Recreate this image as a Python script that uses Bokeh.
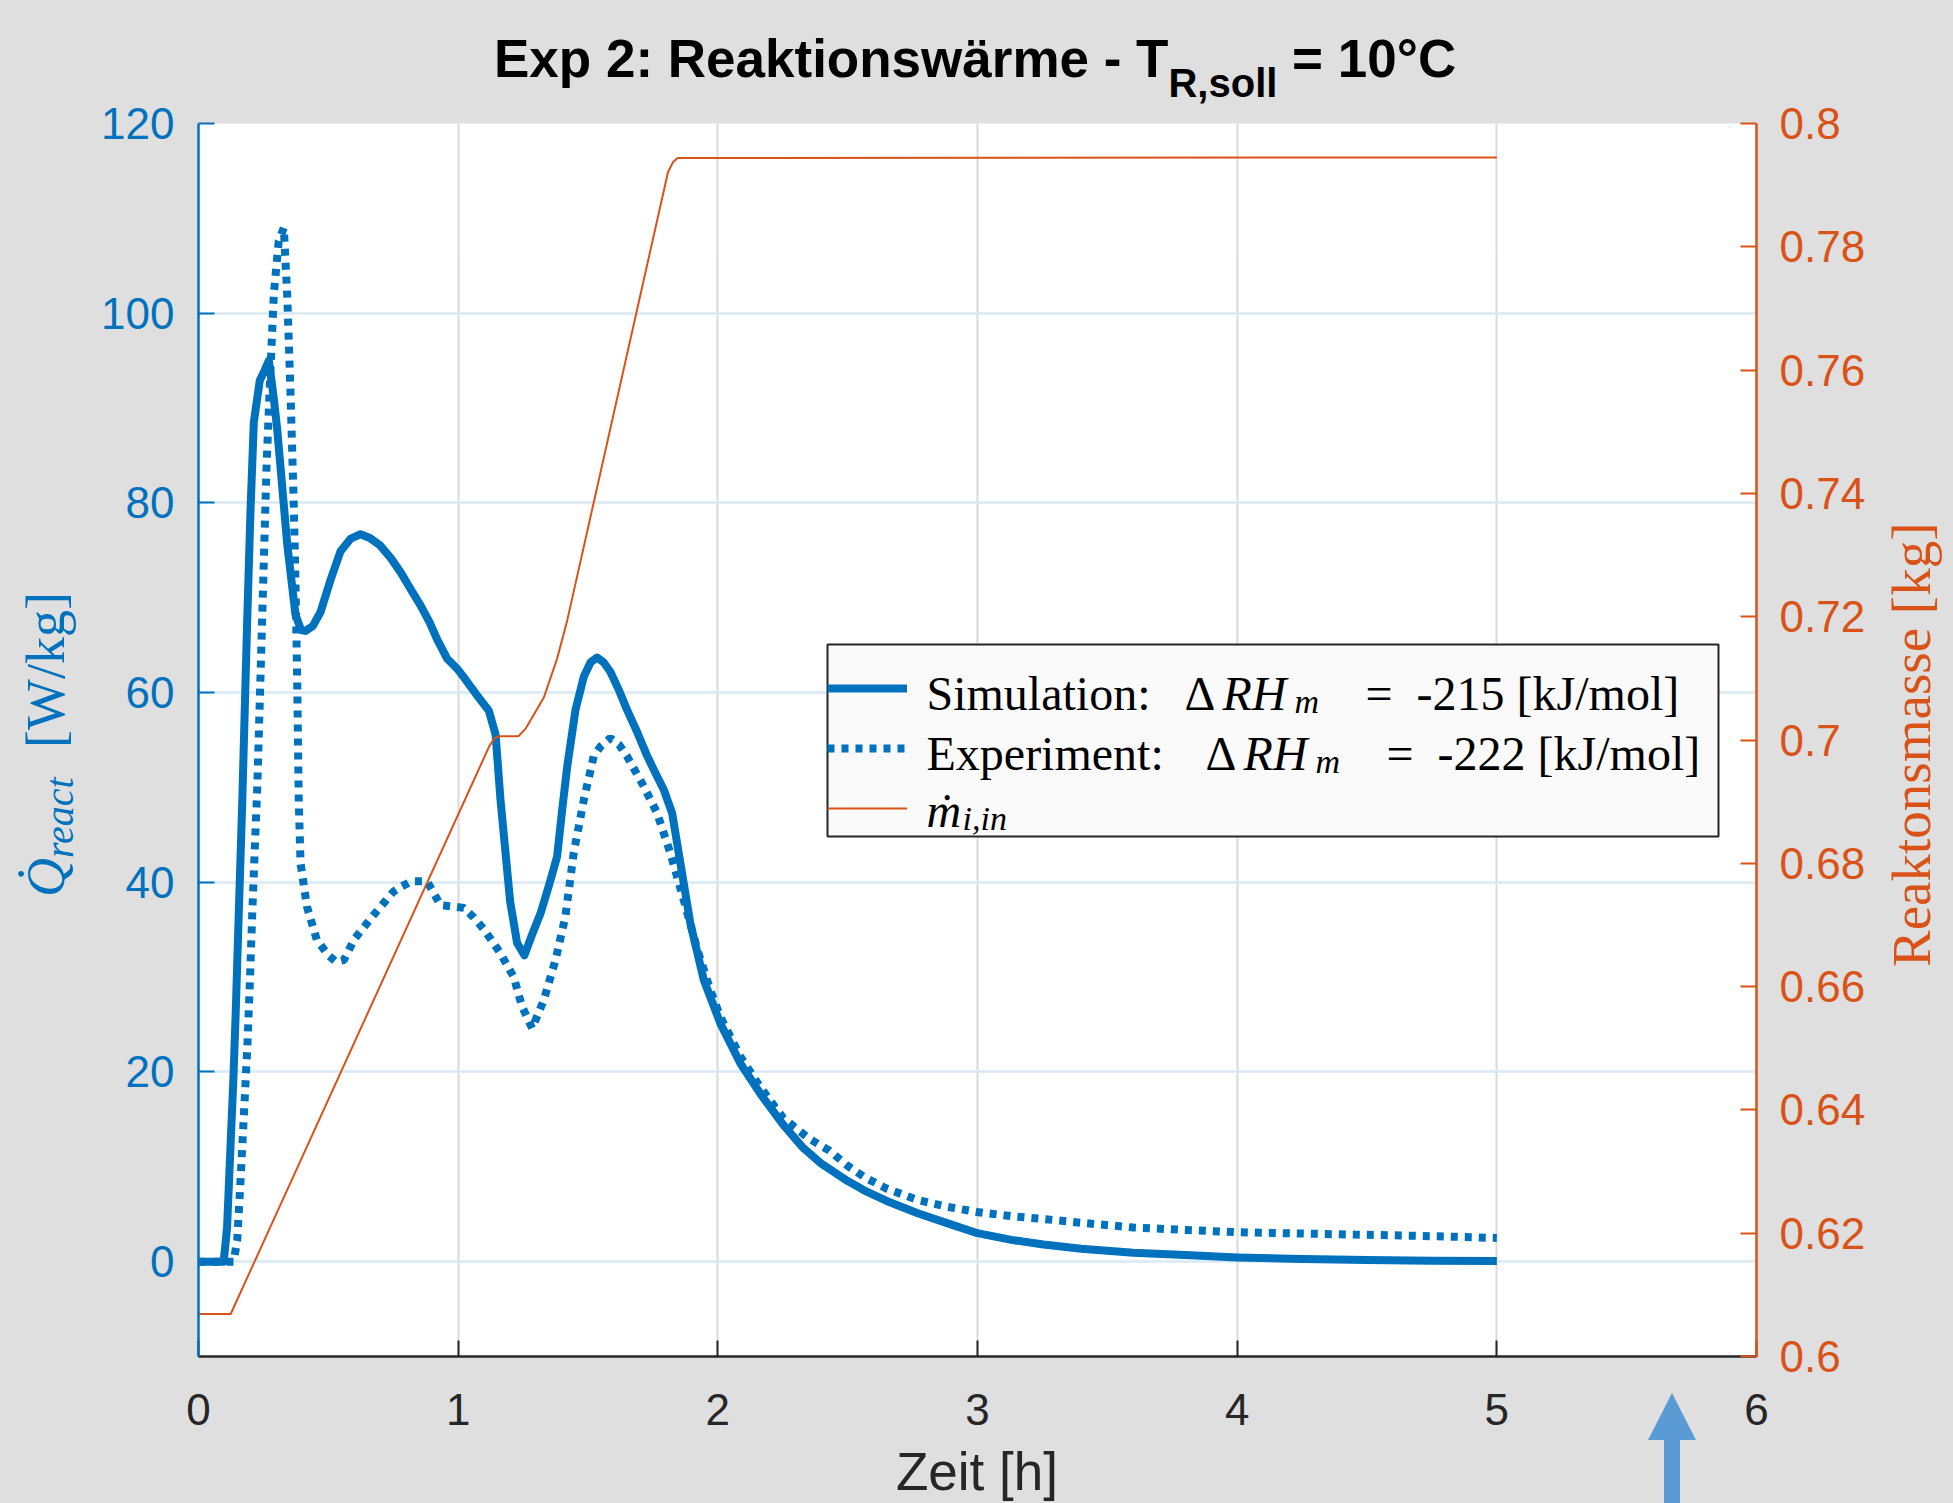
from bokeh.plotting import figure
from bokeh.models import (Range1d, LinearAxis, FixedTicker, Legend, LegendItem, Div, Label,
                          BoxAnnotation)
from bokeh.layouts import column, row
from bokeh.embed import file_html
from bokeh.resources import INLINE

# ---------------- data ----------------
sim_t = [0, 0.097, 0.11, 0.123, 0.134, 0.143, 0.155, 0.168, 0.1875, 0.20, 0.213, 0.236, 0.255,
         0.271, 0.29, 0.303, 0.3415, 0.3735, 0.395, 0.412, 0.44, 0.47, 0.51, 0.547, 0.585, 0.624,
         0.66, 0.70, 0.74, 0.778, 0.815, 0.855, 0.89, 0.919, 0.957, 1.0, 1.022, 1.07, 1.118, 1.144,
         1.163, 1.2, 1.227, 1.255, 1.285, 1.317, 1.35, 1.381, 1.40, 1.42, 1.452, 1.484, 1.51, 1.535,
         1.56, 1.586, 1.62, 1.65, 1.69, 1.728, 1.76, 1.792, 1.824, 1.856, 1.894, 1.946, 2.01, 2.087,
         2.164, 2.25, 2.325, 2.4, 2.5, 2.565, 2.65, 2.77, 2.9, 3.0, 3.13, 3.254, 3.4, 3.6, 3.8, 4.0,
         4.25, 4.5, 4.75, 5.0]
sim_q = [0, 0, 3.6, 12, 19, 26, 36.7, 48, 67.6, 79, 88.5, 92.9, 94,
         95, 91, 87.8, 75.7, 68.2, 66.6, 66.5, 67, 68.5, 72, 74.9, 76.2, 76.7,
         76.3, 75.5, 74.2, 72.7, 71.0, 69.2, 67.4, 65.6, 63.6, 62.4, 61.6, 59.8, 58.1, 55.6,
         48.7, 38, 33.6, 32.3, 34.5, 36.7, 39.7, 42.7, 47.5, 52.2, 58.2, 61.7, 63.2, 63.7,
         63.2, 62.2, 60.2, 58.2, 55.8, 53.3, 51.5, 49.75, 47.3, 42, 35.7, 29.7, 25.1, 20.9,
         17.7, 14.5, 12.1, 10.3, 8.5, 7.5, 6.4, 5.1, 3.9, 3.0, 2.3, 1.8, 1.35, 0.95, 0.7, 0.45,
         0.28, 0.17, 0.1, 0.06]

exp_t = [0, 0.135, 0.149, 0.162, 0.175, 0.188, 0.198, 0.207, 0.217, 0.226, 0.245, 0.262, 0.277,
         0.29, 0.309, 0.3285, 0.3415, 0.354, 0.367, 0.3735, 0.38, 0.386, 0.393, 0.418, 0.456, 0.50,
         0.53, 0.56, 0.60, 0.676, 0.75, 0.778, 0.82, 0.88, 0.932, 0.96, 1.022, 1.06, 1.1, 1.163,
         1.214, 1.246, 1.285, 1.33, 1.375, 1.413, 1.445, 1.484, 1.522, 1.548, 1.586, 1.62, 1.65,
         1.715, 1.766, 1.817, 1.869, 1.92, 1.97, 2.01, 2.087, 2.164, 2.25, 2.35, 2.43, 2.5, 2.565,
         2.65, 2.77, 2.88, 3.006, 3.13, 3.254, 3.4, 3.6, 3.8, 4.0, 4.28, 4.45, 4.63, 4.8, 5.0]
exp_q = [0, 0, 2.2, 8.6, 15.6, 22.6, 29.6, 36.7, 43.7, 49.7, 67.6, 83.8, 93.9,
         102, 107.6, 109, 102, 91.9, 79.7, 71.6, 61.5, 48.7, 42, 37.4, 33.9, 32.3,
         31.6, 31.8, 34, 36.6, 39, 39.5, 40.1, 40.1, 37.6, 37.5, 37.3, 36.3, 35, 32.5,
         30, 26.9, 24.6, 27.6, 31.8, 36.4, 43.1, 48.7, 53.3, 54.3, 55.2, 54.5, 53.3,
         50.1, 47.3, 43.1, 38.1, 33, 28.7, 25.8, 21.6, 18.4, 15.2, 13.0, 11.7, 10.1, 8.9,
         7.7, 6.5, 5.8, 5.2, 4.8, 4.5, 4.1, 3.6, 3.35, 3.1, 2.95, 2.85, 2.76, 2.65, 2.5]

mass_t = [0, 0.124, 1.12, 1.14, 1.16, 1.232, 1.259, 1.33, 1.381, 1.42, 1.808, 1.827, 1.845, 5.0]
mass_kg = [0.6069, 0.6069, 0.6990, 0.7003, 0.7006, 0.7006, 0.7018, 0.7069, 0.7132, 0.7194,
           0.7921, 0.7937, 0.7944, 0.7945]

x_ticks = [0, 1, 2, 3, 4, 5, 6]
left_ticks = [0, 20, 40, 60, 80, 100, 120]
right_ticks = [0.6, 0.62, 0.64, 0.66, 0.68, 0.7, 0.72, 0.74, 0.76, 0.78, 0.8]
right_tick_labels = ["0.6", "0.62", "0.64", "0.66", "0.68", "0.7", "0.72", "0.74", "0.76", "0.78", "0.8"]

# legend texts, split into the pieces of their formula typesetting
sim_label = ["Simulation:", "\u0394", "RH", "m", "=\u2002-215 [kJ/mol]"]
exp_label = ["Experiment:", "\u0394", "RH", "m", "=\u2002-222 [kJ/mol]"]
feed_label = ["m\u0307", "i,in"]

title_main = "Exp 2: Reaktionsw\u00e4rme - T"
title_sub = "R,soll"
title_tail = " = 10\u00b0C"
x_label = "Zeit [h]"
left_label_q = "Q&#775;"
left_label_sub = "react"
left_label_unit = "[W/kg]"
right_label = "Reaktonsmasse [kg]"

# ---------------- styling ----------------
BLUE = "#0072BD"
ORANGE = "#D95319"
DARK = "#262626"
BG = "#dfdfdf"

W, H = 1953, 1503
TOP_H = 90       # title strip
BOT_H = 60       # x label strip
LEFT_W = 90      # left label strip
RIGHT_W = 73     # right label strip
FIG_W = W - LEFT_W - RIGHT_W
FIG_H = H - TOP_H - BOT_H

# frame position on the page (only used to place texts)
FL, FR, FT, FB = 198, 1756, 123, 1356
X0, X1, Y0, Y1 = 0, 6, -10, 120


def dx(X):
    return X0 + (X - FL) / (FR - FL) * (X1 - X0)


def dy(Y):
    return Y0 + (FB - Y) / (FB - FT) * (Y1 - Y0)


p = figure(width=FIG_W, height=FIG_H, x_range=Range1d(X0, X1), y_range=Range1d(Y0, Y1),
           output_backend="svg", toolbar_location=None,
           min_border_left=FL - LEFT_W, min_border_right=W - RIGHT_W - FR,
           min_border_top=FT - TOP_H, min_border_bottom=H - BOT_H - FB,
           styles={"background-color": BG})
p.extra_y_ranges = {"mass": Range1d(0.6, 0.8)}
p.border_fill_color = BG
p.background_fill_color = "white"
p.outline_line_color = None

# bottom axis
xa = p.xaxis[0]
xa.ticker = FixedTicker(ticks=x_ticks)
xa.axis_line_color = DARK
xa.axis_line_width = 2.5
xa.major_tick_in = 16
xa.major_tick_out = 0
xa.major_tick_line_color = DARK
xa.major_tick_line_width = 2
xa.minor_tick_line_color = None
xa.major_label_text_font = "Liberation Sans"
xa.major_label_text_font_size = "44px"
xa.major_label_text_color = DARK
xa.major_label_standoff = 37

# left axis
ya = p.yaxis[0]
ya.ticker = FixedTicker(ticks=left_ticks)
ya.axis_line_color = BLUE
ya.axis_line_width = 2.5
ya.major_tick_in = 16
ya.major_tick_out = 0
ya.major_tick_line_color = BLUE
ya.major_tick_line_width = 2
ya.minor_tick_line_color = None
ya.major_label_text_font = "Liberation Sans"
ya.major_label_text_font_size = "44px"
ya.major_label_text_color = BLUE
ya.major_label_standoff = 24

# right axis
ra = LinearAxis(y_range_name="mass", ticker=FixedTicker(ticks=right_ticks),
                major_label_overrides=dict(zip(right_ticks, right_tick_labels)))
ra.axis_line_color = ORANGE
ra.axis_line_width = 2.5
ra.major_tick_in = 16
ra.major_tick_out = 0
ra.major_tick_line_color = ORANGE
ra.major_tick_line_width = 2
ra.minor_tick_line_color = None
ra.major_label_text_font = "Liberation Sans"
ra.major_label_text_font_size = "44px"
ra.major_label_text_color = ORANGE
ra.major_label_standoff = 23
p.add_layout(ra, "right")

# grids
p.xgrid.ticker = FixedTicker(ticks=x_ticks)
p.xgrid.grid_line_color = "#d9dadc"
p.xgrid.grid_line_width = 2
p.ygrid.ticker = FixedTicker(ticks=left_ticks)
p.ygrid.grid_line_color = "#d9e9f5"
p.ygrid.grid_line_width = 2.5

# lines
r_sim = p.line(sim_t, sim_q, line_color=BLUE, line_width=8, line_join="round")
r_exp = p.line(exp_t, exp_q, line_color=BLUE, line_width=8, line_dash="7 7", line_cap="butt")
r_m = p.line(mass_t, mass_kg, line_color=ORANGE, line_width=2, y_range_name="mass")

# legend frame (drawn beneath the legend texts)
p.add_layout(BoxAnnotation(left=dx(827), right=dx(1718), top=dy(644), bottom=dy(836),
                           fill_color="#fafafa", fill_alpha=1.0, line_color=DARK,
                           line_alpha=1.0, line_width=2))

# legend samples (texts are typeset separately below)
legend = Legend(items=[LegendItem(label=" ", renderers=[r_sim]),
                       LegendItem(label=" ", renderers=[r_exp]),
                       LegendItem(label=" ", renderers=[r_m])],
                location=(629, 518))
legend.label_text_font_size = "1px"
legend.glyph_width = 80
legend.glyph_height = 20
legend.label_standoff = 13
legend.label_height = 60
legend.label_width = 785
legend.padding = 6
legend.spacing = 0
legend.margin = 0
legend.border_line_color = None
legend.background_fill_alpha = 0.0
p.add_layout(legend)

# legend texts: (piece, left px, baseline px, size, italic)
legend_layout = [
    (sim_label[0], 926, 693, 48, False), (sim_label[1], 1184, 693, 48, False),
    (sim_label[2], 1222, 693, 48, True), (sim_label[3], 1294, 701, 34, True),
    (sim_label[4], 1365, 693, 48, False),
    (exp_label[0], 926, 753, 48, False), (exp_label[1], 1205, 753, 48, False),
    (exp_label[2], 1243, 753, 48, True), (exp_label[3], 1315, 761, 34, True),
    (exp_label[4], 1386, 753, 48, False),
    (feed_label[0], 926, 810, 48, True), (feed_label[1], 962, 818, 34, True),
]
for txt, lx, by, size, it in legend_layout:
    p.add_layout(Label(x=dx(lx), y=dy(by), text=txt, text_font="Liberation Serif",
                       text_font_size="%dpx" % size, text_font_style="italic" if it else "normal",
                       text_color="black", text_align="left", text_baseline="alphabetic",
                       level="overlay"))

# ---------------- surrounding texts (HTML strips) ----------------
def rot_piece(text, left, top, size, color, italic=False):
    style = ("position:absolute;left:%dpx;top:%dpx;transform:rotate(-90deg);transform-origin:0 0;"
             "white-space:nowrap;font-family:'Liberation Serif';font-size:%dpx;line-height:%dpx;"
             "color:%s;font-style:%s;" % (left, top, size, size, color,
                                          "italic" if italic else "normal"))
    return '<div style="%s">%s</div>' % (style, text)


title_html = (
    '<div style="position:relative;width:%dpx;height:%dpx;overflow:visible;">'
    '<div style="position:absolute;left:494px;top:32px;white-space:nowrap;'
    "font-family:'Liberation Sans';font-weight:bold;font-size:53px;line-height:53px;color:#000;\">"
    '%s<span style="font-size:40px;position:relative;top:20px;">%s</span>%s</div></div>'
) % (W, TOP_H, title_main, title_sub, title_tail)
title_div = Div(text=title_html, width=W, height=TOP_H, margin=0,
                styles={"background-color": BG, "overflow": "visible",
                        "position": "relative", "z-index": "10"})

left_html = ('<div style="position:relative;width:%dpx;height:%dpx;">' % (LEFT_W, FIG_H)
             + rot_piece(left_label_q, 19, 897 - TOP_H, 54, BLUE, italic=True)
             + rot_piece(left_label_sub, 40, 858 - TOP_H, 40, BLUE, italic=True)
             + rot_piece(left_label_unit, 19, 748 - TOP_H, 54, BLUE)
             + '</div>')
left_div = Div(text=left_html, width=LEFT_W, height=FIG_H, margin=0,
               styles={"background-color": BG, "overflow": "hidden"})

right_html = ('<div style="position:relative;width:%dpx;height:%dpx;">' % (RIGHT_W, FIG_H)
              + rot_piece(right_label, 4, 967 - TOP_H, 55, ORANGE)
              + '</div>')
right_div = Div(text=right_html, width=RIGHT_W, height=FIG_H, margin=0,
                styles={"background-color": BG, "overflow": "hidden"})

bottom_html = (
    '<div style="position:relative;width:%dpx;height:%dpx;">'
    '<div style="position:absolute;left:0;top:2px;width:%dpx;text-align:center;white-space:nowrap;'
    "font-family:'Liberation Sans';font-size:53px;line-height:53px;color:%s;\">%s</div></div>"
) % (W, BOT_H, W + 1, DARK, x_label)
bottom_div = Div(text=bottom_html, width=W, height=BOT_H, margin=0,
                 styles={"background-color": BG, "overflow": "hidden"})

# small blue arrow in the lower right margin (decoration of the original picture)
arrow_html = ('<svg width="52" height="110" xmlns="http://www.w3.org/2000/svg">'
              '<polygon points="26,0 50,47 34,47 34,110 18,110 18,47 2,47" fill="#5b9bd5"/></svg>')
arrow_div = Div(text=arrow_html, width=52, height=110, margin=(-110, 0, 0, 1646))

layout = column(title_div, row(left_div, p, right_div, spacing=0), bottom_div, arrow_div, spacing=0)

html = file_html(layout, INLINE)
html = html.replace("<body>", '<body style="margin:0;background-color:%s;">' % BG, 1)
open("out.html", "w").write(html)
